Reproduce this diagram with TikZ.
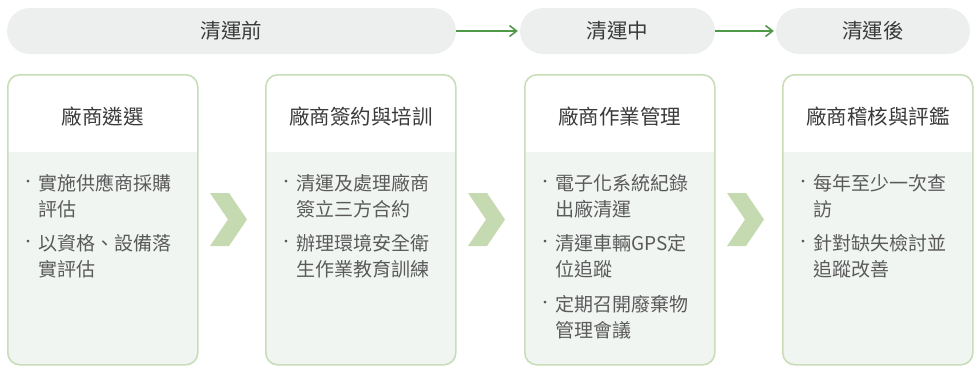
\documentclass[tikz,border=0pt]{standalone}
\usepackage{fontspec}
\setmainfont{Noto Sans CJK TC}
\usetikzlibrary{arrows.meta,calc}
\definecolor{pillfill}{HTML}{EDEFEE}
\definecolor{boxborder}{HTML}{C8DDB8}
\definecolor{chev}{HTML}{C6DAB2}
\definecolor{bodyfill}{HTML}{F1F5F2}
\definecolor{arrowgreen}{HTML}{4E9A47}
\definecolor{titletext}{HTML}{3A3A3A}
\definecolor{bodytext}{HTML}{5A5A5A}
\tikzset{
  pill/.style={fill=pillfill, rounded corners=23pt, minimum height=46pt, inner sep=0pt,
    text=titletext, font=\fontsize{20.5}{24}\selectfont},
  card/.style={draw=boxborder, line width=1.6pt, rounded corners=12pt, fill=white,
    minimum width=190pt, minimum height=290pt, inner sep=0pt, anchor=north west,
    path picture={\fill[bodyfill, sharp corners] ($(path picture bounding box.north west)+(-2,77)$) rectangle ($(path picture bounding box.south east)+(2,2)$);}},
  cardtitle/.style={text=titletext, font=\fontsize{20.5}{24}\selectfont, inner sep=0pt},
  item/.style={anchor=north west, inner sep=0pt, align=left, text=bodytext,
    font=\fontsize{19}{26}\selectfont},
  dot/.style={inner sep=0pt, text=bodytext, font=\fontsize{13}{16}\selectfont},
  flow/.style={draw=arrowgreen, line width=1.6pt, -{Straight Barb[length=7pt,width=11pt,line width=1.6pt]}},
  chevron/.style={fill=chev, draw=none}
}
\begin{document}
\begin{tikzpicture}[x=1pt,y=-1pt]
\useasboundingbox (0,0) rectangle (978,368);
% phase pills
\node[pill, minimum width=449pt] (p1) at (231.5,31) {清運前};
\node[pill, minimum width=195pt] (p2) at (617.5,31) {清運中};
\node[pill, minimum width=194pt] (p3) at (873,31) {清運後};
\draw[flow] (p1.east) -- ([xshift=-2pt]p2.west);
\draw[flow] (p2.east) -- ([xshift=-2pt]p3.west);
% cards
\node[card] (c1) at (7,74) {};
\node[card] (c2) at (265,74) {};
\node[card] (c3) at (524,74) {};
\node[card] (c4) at (782,74) {};
% titles
\node[cardtitle] (t1) at ($(c1.north)+(0,43)$) {廠商遴選};
\node[cardtitle] (t2) at ($(c2.north)+(0,43)$) {廠商簽約與培訓};
\node[cardtitle] (t3) at ($(c3.north)+(0,43)$) {廠商作業管理};
\node[cardtitle] (t4) at ($(c4.north)+(0,43)$) {廠商稽核與評鑑};
% card 1 items
\node[dot] (d11) at (28,183) {·};
\node[item] (i11) at (38,172) {\strut 實施供應商採購\\評估};
\node[dot] (d12) at (28,243) {·};
\node[item] (i12) at (38,232) {\strut 以資格、設備落\\實評估};
% card 2 items
\node[dot] (d21) at (286,183) {·};
\node[item] (i21) at (296,172) {\strut 清運及處理廠商\\簽立三方合約};
\node[dot] (d22) at (286,243) {·};
\node[item] (i22) at (296,232) {\strut 辦理環境安全衛\\生作業教育訓練};
% card 3 items
\node[dot] (d31) at (545,183) {·};
\node[item] (i31) at (555,172) {\strut 電子化系統紀錄\\出廠清運};
\node[dot] (d32) at (545,243) {·};
\node[item] (i32) at (555,232) {\strut 清運車輛GPS定\\位追蹤};
\node[dot] (d33) at (545,304) {·};
\node[item] (i33) at (555,293) {\strut 定期召開廢棄物\\管理會議};
% card 4 items
\node[dot] (d41) at (803,183) {·};
\node[item] (i41) at (813,172) {\strut 每年至少一次查\\訪};
\node[dot] (d42) at (803,243) {·};
\node[item] (i42) at (813,232) {\strut 針對缺失檢討並\\追蹤改善};
% chevrons
\foreach \x in {210,468,727} {
  \fill[chevron] (\x,193) -- (\x+19,193) -- (\x+37,219.5) -- (\x+19,246) -- (\x,246) -- (\x+18,219.5) -- cycle;
}
\end{tikzpicture}
\end{document}
